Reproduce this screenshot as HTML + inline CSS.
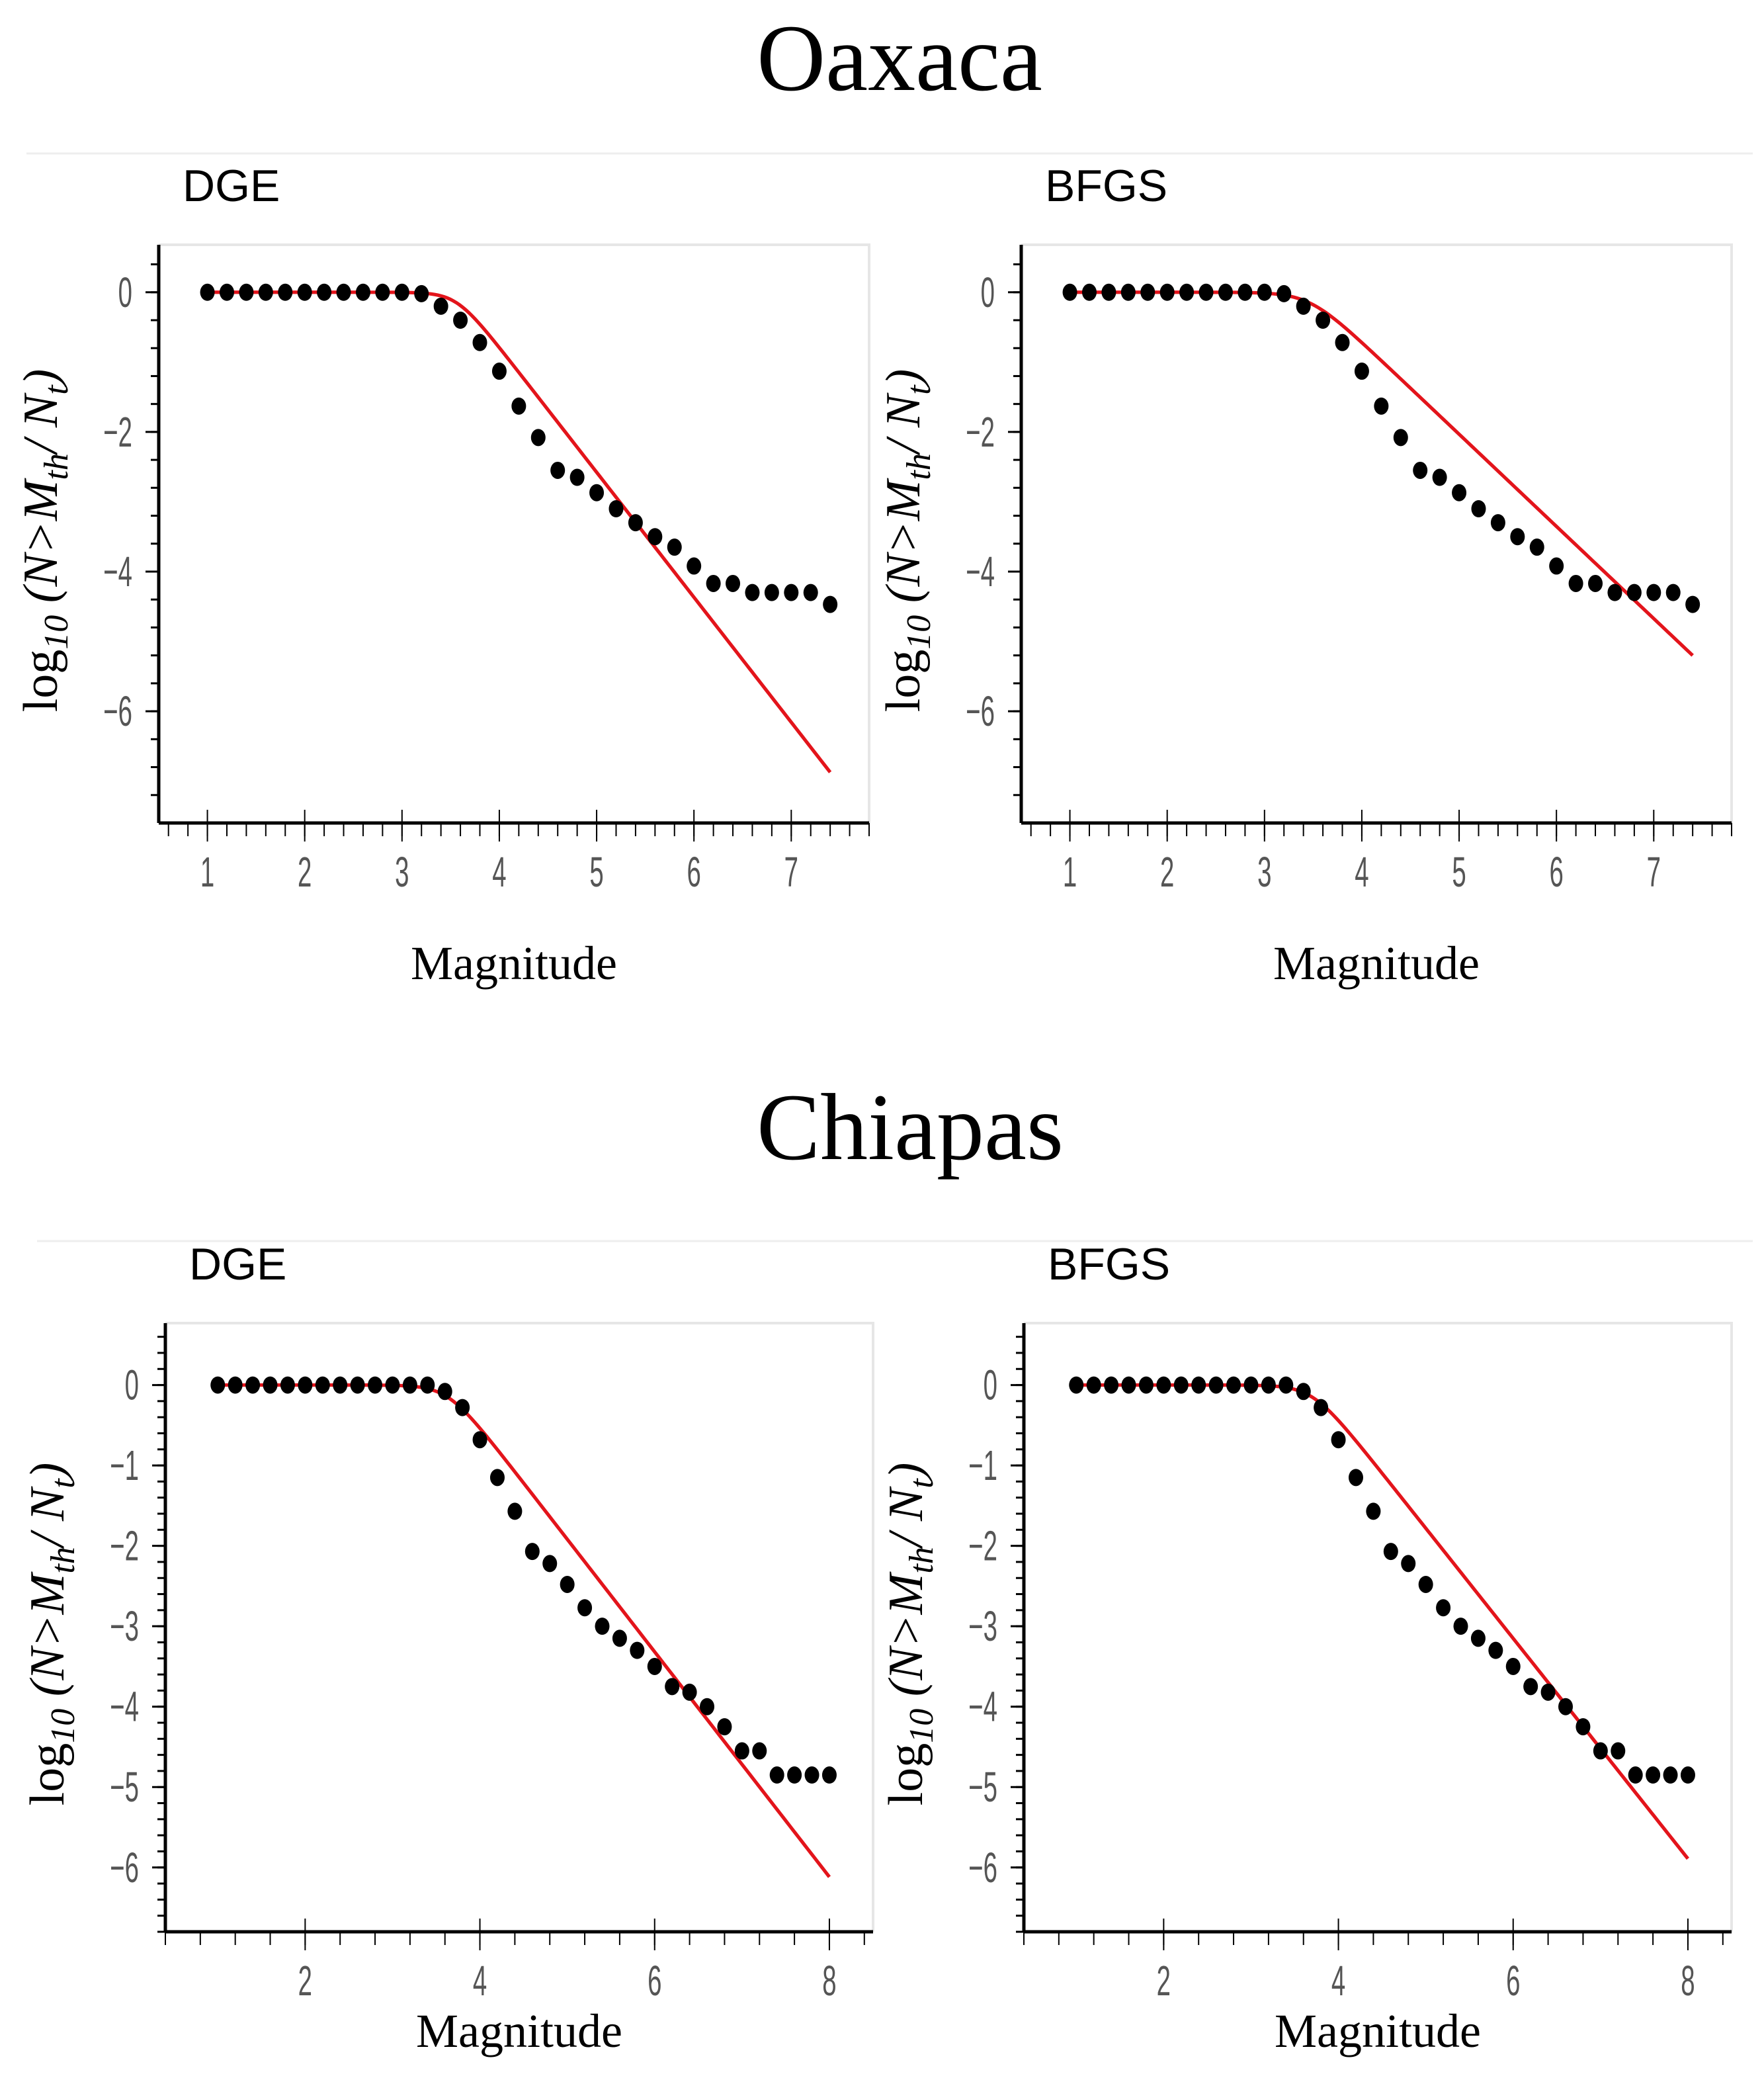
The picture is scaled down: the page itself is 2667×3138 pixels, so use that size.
<!DOCTYPE html>
<html><head><meta charset="utf-8">
<style>
html,body{margin:0;padding:0;background:#fff;}
svg{display:block;}
.tick{font-family:"Liberation Sans",sans-serif;fill:#555;}
</style></head>
<body>
<svg id="fig" width="2667" height="3138" viewBox="0 0 1333.5 1569" xmlns="http://www.w3.org/2000/svg">
<text x="680" y="68" text-anchor="middle" font-family="Liberation Serif, serif" font-size="72">Oaxaca</text>
<line x1="20" y1="116" x2="1325" y2="116" stroke="#eee" stroke-width="1.5"/>
<text x="688" y="876" text-anchor="middle" font-family="Liberation Serif, serif" font-size="72">Chiapas</text>
<line x1="28" y1="938" x2="1325" y2="938" stroke="#eee" stroke-width="1.5"/>
</svg>
<script>
// Oaxaca data
const oaxMag = [1,1.2,1.4,1.6,1.8,2,2.2,2.4,2.6,2.8,3,3.2,3.4,3.6,3.8,4,4.2,4.4,4.6,4.8,5,5.2,5.4,5.6,5.8,6,6.2,6.4,6.6,6.8,7,7.2,7.4];
const oaxVals = [0,0,0,0,0,0,0,0,0,0,0,-0.02,-0.2,-0.4,-0.72,-1.13,-1.63,-2.08,-2.55,-2.65,-2.87,-3.1,-3.3,-3.5,-3.65,-3.92,-4.17,-4.17,-4.3,-4.3,-4.3,-4.3,-4.47];
const oaxDgeFit = {b:1.79, mc:3.56};
const oaxBfgsFit = {b:1.32, mc:3.46};
const oaxXTicks = [1,2,3,4,5,6,7];
const oaxYTicks = [0,-2,-4,-6];
// Chiapas data
const chiMag = [1,1.2,1.4,1.6,1.8,2,2.2,2.4,2.6,2.8,3,3.2,3.4,3.6,3.8,4,4.2,4.4,4.6,4.8,5,5.2,5.4,5.6,5.8,6,6.2,6.4,6.6,6.8,7,7.2,7.4,7.6,7.8,8];
const chiVals = [0,0,0,0,0,0,0,0,0,0,0,0,0,-0.08,-0.28,-0.68,-1.15,-1.57,-2.07,-2.22,-2.48,-2.77,-3.0,-3.15,-3.3,-3.5,-3.75,-3.82,-4.0,-4.25,-4.55,-4.55,-4.85,-4.85,-4.85,-4.85];
const chiDgeFit = {b:1.4, mc:3.63};
const chiBfgsFit = {b:1.37, mc:3.7};
const chiXTicks = [2,4,6,8];
const chiYTicks = [0,-1,-2,-3,-4,-5,-6];

const NS='http://www.w3.org/2000/svg';
const svg=document.getElementById('fig');
function el(tag,attrs,parent){const e=document.createElementNS(NS,tag);for(const k in attrs)e.setAttribute(k,attrs[k]);(parent||svg).appendChild(e);return e;}

function panel(o){
  const g=el('g',{});
  
  
  const X=v=>o.L+(v-o.xmin)/(o.xmax-o.xmin)*(o.R-o.L);
  const Y=v=>o.T+(o.ymax-v)/(o.ymax-o.ymin)*(o.B-o.T);
  const t=el('text',{x:o.L+18,y:o.T-33,'font-family':'Liberation Sans, sans-serif','font-size':34},g);
  t.textContent=o.title;
  
  
  const fr=el('path',{d:`M${o.L} ${o.T}H${o.R}V${o.B}`,fill:'none',stroke:'#e6e6e6','stroke-width':2},g);
  
  
  for(let v=Math.ceil(o.ymin/o.yminor)*o.yminor;v<=o.ymax+1e-9;v+=o.yminor){
    el('line',{x1:o.L-6,x2:o.L,y1:Y(v),y2:Y(v),stroke:'#000','stroke-width':1.5},g);
  }
  for(let v=Math.ceil(o.xmin/o.xminor)*o.xminor;v<=o.xmax+1e-9;v+=o.xminor){
    el('line',{x1:X(v),x2:X(v),y1:o.B,y2:o.B+10,stroke:'#000','stroke-width':1},g);
  }
  o.yt.forEach(v=>{
    el('line',{x1:o.L-10,x2:o.L,y1:Y(v),y2:Y(v),stroke:'#000','stroke-width':1.5},g);
    const tx=el('text',{class:'tick',x:0,y:0,'font-size':32,'text-anchor':'end',transform:`translate(${o.L-20},${Y(v)+11}) scale(0.6,1)`},g);
    tx.textContent=v<0?'\u2212'+(-v):String(v);
    
    
  });
  o.xt.forEach(v=>{
    el('line',{x1:X(v),x2:X(v),y1:o.B-10,y2:o.B+14,stroke:'#000','stroke-width':1},g);
    const tx=el('text',{class:'tick',x:0,y:0,'font-size':32,'text-anchor':'middle',transform:`translate(${X(v)},${o.B+48}) scale(0.6,1)`},g);
    tx.textContent=String(v);
    
    
  });
  el('line',{x1:o.L,x2:o.L,y1:o.T,y2:o.B,stroke:'#000','stroke-width':2.5},g);
  el('line',{x1:o.L,x2:o.R,y1:o.B,y2:o.B,stroke:'#000','stroke-width':2.5},g);
  let d='';
  const m0=o.mag[0],m1=o.mag[o.mag.length-1];
  const k=2;
  for(let i=0;i<=200;i++){const m=m0+(m1-m0)*i/200;const y=-Math.log10(1+Math.pow(10,k*o.fit.b*(m-o.fit.mc)))/k;d+=(i?'L':'M')+X(m).toFixed(2)+' '+Y(y).toFixed(2);}
  const fl=el('path',{d:d,fill:'none',stroke:'#e3141b','stroke-width':2.6},g);
  
  
  o.mag.forEach((m,i)=>{
    const c=el('ellipse',{cx:X(m),cy:Y(o.vals[i]),rx:5.5,ry:6.5,fill:'#000'},g);
    
    
  });
  const xl=el('text',{x:(o.L+o.R)/2,y:o.xlabY,'text-anchor':'middle','font-family':'Liberation Serif, serif','font-size':36},g);
  xl.textContent='Magnitude';
  
  
  const cy=(o.T+o.B)/2+5;
  const yl=el('text',{x:0,y:0,'text-anchor':'middle','font-family':'Liberation Serif, serif','font-size':37,transform:`translate(${o.L-77},${cy}) rotate(-90)`},g);
  yl.innerHTML='log<tspan font-size="26" font-style="italic" dy="8">10</tspan><tspan dy="-8" font-style="italic"> (N&gt;M</tspan><tspan font-size="26" font-style="italic" dy="8">th</tspan><tspan dy="-8" font-style="italic">/ N</tspan><tspan font-size="26" font-style="italic" dy="8">t</tspan><tspan dy="-8" font-style="italic">)</tspan>';
  
  
}
const oaxCommon={T:185,B:622,xmin:0.5,xmax:7.8,ymin:-7.6,ymax:0.68,xminor:0.2,yminor:0.4,xt:oaxXTicks,yt:oaxYTicks,mag:oaxMag,vals:oaxVals,xlabY:740};
panel(Object.assign({},oaxCommon,{name:'oaxaca-dge-panel',title:'DGE',L:120,R:657,fit:oaxDgeFit}));
panel(Object.assign({},oaxCommon,{name:'oaxaca-bfgs-panel',title:'BFGS',L:772,R:1309,fit:oaxBfgsFit}));
const chiCommon={T:1000,B:1460,xmin:0.4,xmax:8.5,ymin:-6.8,ymax:0.77,xminor:0.4,yminor:0.2,xt:chiXTicks,yt:chiYTicks,mag:chiMag,vals:chiVals,xlabY:1547};
panel(Object.assign({},chiCommon,{name:'chiapas-dge-panel',title:'DGE',L:125,R:660,fit:chiDgeFit}));
panel(Object.assign({},chiCommon,{name:'chiapas-bfgs-panel',title:'BFGS',L:774,R:1309,fit:chiBfgsFit}));
</script>
</body></html>
